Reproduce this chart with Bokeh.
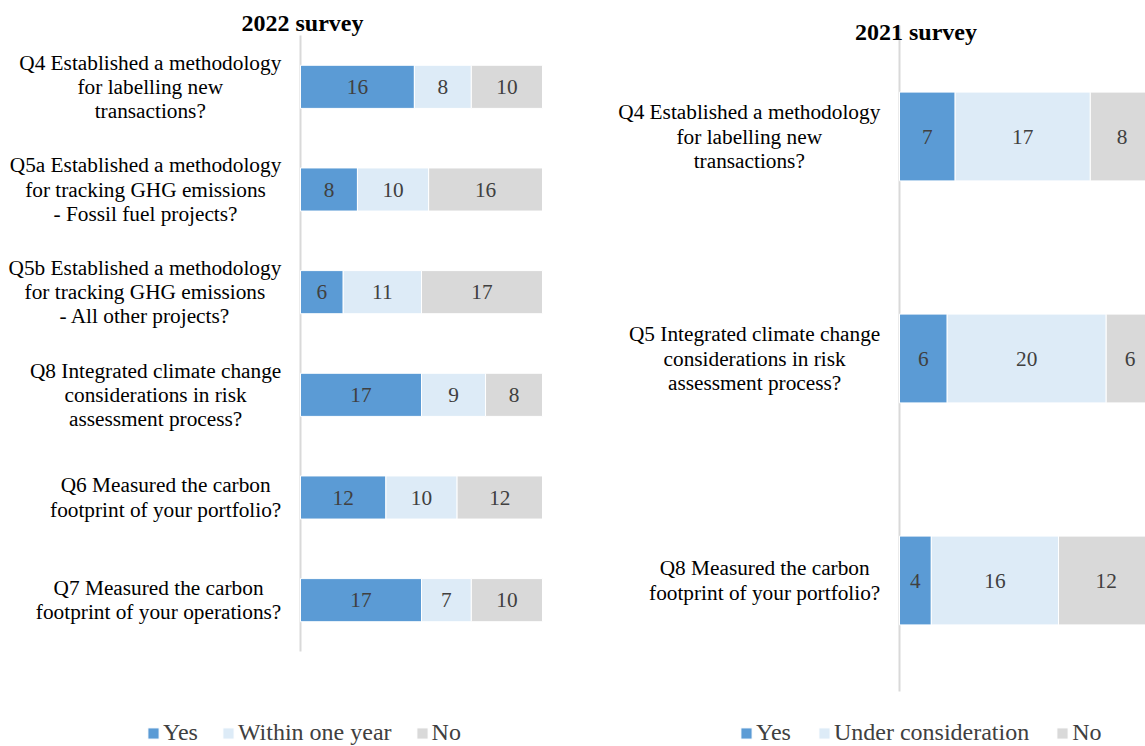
from bokeh.plotting import figure
from bokeh.models import Range1d, ColumnDataSource, Label, Legend, LegendItem
from bokeh.layouts import row
from bokeh.embed import file_html
from bokeh.resources import INLINE
from bokeh.core.properties import value

# ---------------- data ----------------
cats_2022 = [
    "Q4 Established a methodology\nfor labelling new\ntransactions?",
    "Q5a Established a methodology\nfor tracking GHG emissions\n- Fossil fuel projects?",
    "Q5b Established a methodology\nfor tracking GHG emissions\n- All other projects?",
    "Q8 Integrated climate change\nconsiderations in risk\nassessment process?",
    "Q6 Measured the carbon\nfootprint of your portfolio?",
    "Q7 Measured the carbon\nfootprint of your operations?",
]
yes_2022 = [16, 8, 6, 17, 12, 17]
within_2022 = [8, 10, 11, 9, 10, 7]
no_2022 = [10, 16, 17, 8, 12, 10]
series_2022 = ["Yes", "Within one year", "No"]

cats_2021 = [
    "Q4 Established a methodology\nfor labelling new\ntransactions?",
    "Q5 Integrated climate change\nconsiderations in risk\nassessment process?",
    "Q8 Measured the carbon\nfootprint of your portfolio?",
]
yes_2021 = [7, 6, 4]
under_2021 = [17, 20, 16]
no_2021 = [8, 6, 12]
series_2021 = ["Yes", "Under consideration", "No"]

colors = ["#5B9BD5", "#DDEBF7", "#D9D9D9"]
FONT = "Liberation Serif"
H = 746

# Times-Roman advance widths (per 1000 em) to right-align centred label blocks
TIMES = dict(zip("ABCDEFGHIJKLMNOPQRSTUVWXYZ",
                 [722, 667, 667, 722, 611, 556, 722, 722, 333, 389, 722, 611, 889,
                  722, 722, 556, 722, 667, 556, 611, 722, 722, 944, 722, 722, 611]))
TIMES.update(dict(zip("abcdefghijklmnopqrstuvwxyz",
                      [444, 500, 444, 500, 444, 333, 500, 500, 278, 278, 500, 278, 778,
                       500, 500, 500, 500, 333, 389, 278, 500, 500, 722, 500, 500, 444])))
TIMES.update({c: 500 for c in "0123456789"})
TIMES.update({" ": 250, "?": 444, "-": 333, ".": 250, ",": 250})


def text_w(s, size):
    return sum(TIMES.get(c, 500) for c in s) * size / 1000.0


def build(cats, vals, names, title, width, axis_px, ppu, top_px, bottom_px,
          bar_h, title_dx, title_dy, legend_x, legend_spacing):
    """axis_px: x pixel of value 0; ppu: pixels per value unit;
    top_px/bottom_px: pixel rows of the category band."""
    n = len(cats)
    slot = (bottom_px - top_px) / n          # pixels per category
    x_range = Range1d(-axis_px / ppu, (width - axis_px) / ppu)
    y_range = Range1d(-(H - bottom_px) / slot, n + top_px / slot)
    p = figure(width=width, height=H, min_border=0,
               x_range=x_range, y_range=y_range,
               toolbar_location=None, output_backend="svg",
               x_axis_location=None, y_axis_location=None)
    p.grid.visible = False
    p.outline_line_color = None
    p.background_fill_color = "white"
    p.border_fill_color = "white"

    ypos = [n - 1 - i + 0.5 for i in range(n)]

    # vertical category axis line
    p.segment(x0=[0], y0=[0], x1=[0], y1=[n], line_color="#D9D9D9", line_width=2)

    src = ColumnDataSource(dict(y=ypos, s0=vals[0], s1=vals[1], s2=vals[2]))
    rs = p.hbar_stack(["s0", "s1", "s2"], y="y", height=bar_h, fill_color=colors,
                      line_color="white", line_width=1, source=src)

    # value labels
    xs, ys, ts = [], [], []
    for i in range(n):
        left = 0
        for s in range(3):
            v = vals[s][i]
            xs.append(left + v / 2.0)
            ys.append(ypos[i])
            ts.append(str(v))
            left += v
    p.text(x="x", y="y", text="t", source=ColumnDataSource(dict(x=xs, y=ys, t=ts)),
           text_align="center", text_baseline="middle",
           text_font=value(FONT), text_font_size=value("21.3px"), text_color="#404040")

    # category labels (lines centred, block right-aligned)
    size = 21.33
    for i, c in enumerate(cats):
        lines = c.split("\n")
        bw = max(text_w(l, size) for l in lines)
        for j, l in enumerate(lines):
            p.add_layout(Label(x=0, y=ypos[i], x_offset=-(19 + bw / 2.0),
                               y_offset=((len(lines) - 1) / 2.0 - j) * 24.3,
                               text=l, text_align="center", text_baseline="middle",
                               text_font=FONT, text_font_size="21.3px",
                               text_color="black"))

    # title
    p.add_layout(Label(x=0, y=n, x_offset=title_dx, y_offset=title_dy, text=title,
                       text_align="center", text_baseline="middle",
                       text_font=FONT, text_font_style="bold", text_font_size="24px",
                       text_color="black"))

    legend = Legend(items=[LegendItem(label=names[k], renderers=[rs[k]]) for k in range(3)],
                    orientation="horizontal", location=(legend_x, 0),
                    padding=0, margin=0, spacing=legend_spacing, label_standoff=3,
                    glyph_width=14, glyph_height=14, label_height=24,
                    label_text_font=FONT, label_text_font_size="24px",
                    label_text_color="#404040",
                    border_line_color=None, background_fill_alpha=0)
    p.add_layout(legend)
    return p


p1 = build(cats_2022, [yes_2022, within_2022, no_2022], series_2022, "2022 survey",
           width=585, axis_px=300, ppu=242 / 34, top_px=35, bottom_px=651,
           bar_h=0.42, title_dx=2, title_dy=13, legend_x=146, legend_spacing=23)
p2 = build(cats_2021, [yes_2021, under_2021, no_2021], series_2021, "2021 survey",
           width=560, axis_px=899 - 585, ppu=7.95, top_px=25, bottom_px=691,
           bar_h=0.4, title_dx=16.5, title_dy=-6, legend_x=739 - 585, legend_spacing=26)

layout = row(p1, p2)
open("out.html", "w").write(file_html(layout, INLINE))
